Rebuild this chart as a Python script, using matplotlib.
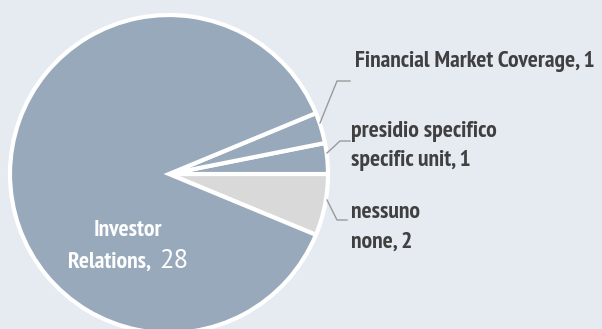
import matplotlib
matplotlib.use("Agg")
import matplotlib.pyplot as plt
from matplotlib import font_manager

# Survey answers: which unit handles financial market relations
categories = ["nessuno\nnone", "presidio specifico\nspecific unit",
              "Financial Market Coverage", "Investor Relations"]
values = [2, 1, 1, 28]
colors = ["#d9d9d9", "#98a9bc", "#98a9bc", "#98a9bc"]

installed = {f.name for f in font_manager.fontManager.ttflist}
FONT = next((f for f in ["PT Sans Narrow", "Roboto Condensed", "Archivo Narrow",
                         "Liberation Sans Narrow", "DejaVu Sans"] if f in installed))
NUMFONT = next((f for f in ["PT Sans", "Roboto", "Open Sans", "DejaVu Sans"]
                if f in installed))

BG = "#e6ebf2"
TXT = "#404040"
H = 329

fig = plt.figure(figsize=(6.02, 3.29), dpi=100, facecolor=BG)
ax = fig.add_axes([0, 0, 1, 1])

cx, cy, r = 169, H - 174, 159
ax.pie(values, colors=colors, startangle=-22.5, counterclock=True,
       center=(cx, cy), radius=r, frame=True,
       wedgeprops=dict(edgecolor="white", linewidth=3))
ax.set_xlim(0, 602)
ax.set_ylim(0, H)
ax.set_aspect("equal")
ax.axis("off")

# Leader lines from the small slices to their labels
lc = "#9a9a9a"
ax.plot([320, 337, 350], [H - 123, H - 81, H - 81], color=lc, lw=1)
ax.plot([327, 340, 350], [H - 153, H - 141, H - 141], color=lc, lw=1)
ax.plot([327, 337, 347], [H - 200, H - 220, H - 220], color=lc, lw=1)

renderer = fig.canvas.get_renderer()


def fit_size(s, family, weight, width):
    """Font size at which text s spans the given width in pixels."""
    probe = ax.text(0, 0, s, fontsize=15, fontweight=weight, family=family)
    w = probe.get_window_extent(renderer).width
    probe.remove()
    return 15 * width / w


fs = fit_size(f"{categories[2]}, {values[2]}", FONT, "bold", 242.0)
fs_num = fit_size(f"{values[3]}", NUMFONT, "medium", 29.0)


def label(x, y, s, family=FONT, **kw):
    kw.setdefault("fontweight", "bold")
    kw.setdefault("color", TXT)
    kw.setdefault("fontsize", fs)
    return ax.text(x, H - y, s, family=family, va="baseline", **kw)


label(355, 67, f"{categories[2]}, {values[2]}")
p1, p2 = categories[1].split("\n")
label(351, 137, p1)
label(351, 166, f"{p2}, {values[1]}")
n1, n2 = categories[0].split("\n")
label(351, 218, n1)
label(351, 248, f"{n2}, {values[0]}")

# Label inside the large slice
ir1, ir2 = categories[3].split(" ")
label(128, 236, ir1, color="white", ha="center")
label(151, 268, f"{ir2},", color="white", ha="right")
label(159, 268, f"{values[3]}", family=NUMFONT, color="white", ha="left",
      fontweight="medium", fontsize=fs_num)

fig.savefig("out.png", dpi=100, facecolor=BG)
